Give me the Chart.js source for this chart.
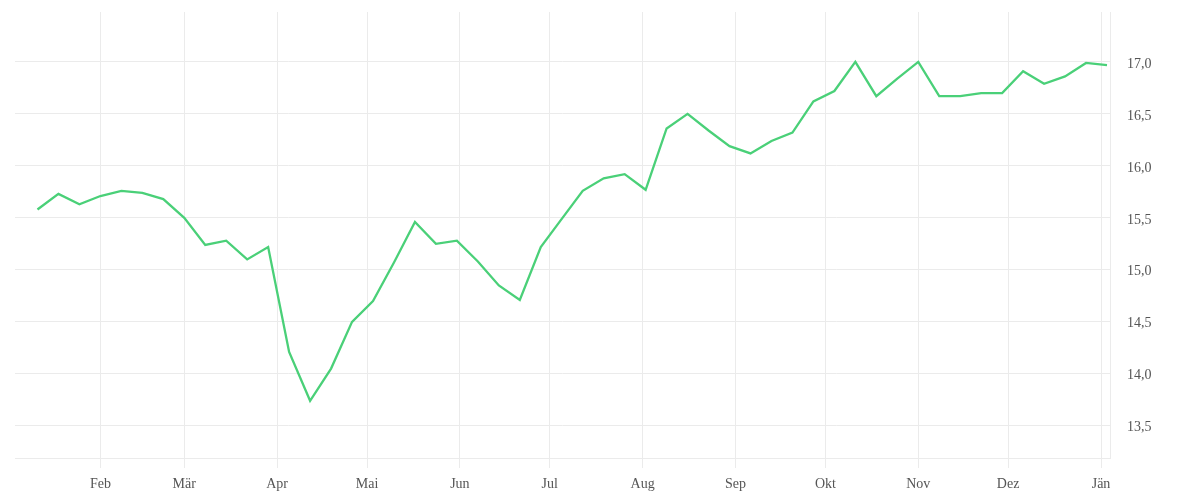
<!DOCTYPE html>
<html><head><meta charset="utf-8">
<script src="https://cdn.jsdelivr.net/npm/chart.js@4.4.1/dist/chart.umd.min.js"></script>
<style>html,body{margin:0;padding:0;background:#fff;} #wrap{width:1200px;height:500px;position:relative;}</style>
</head><body><div id="wrap"><canvas id="c"></canvas></div>
<script>
const dates = [
  '2019-01-11','2019-01-18','2019-01-25','2019-02-01','2019-02-08','2019-02-15','2019-02-22',
  '2019-03-01','2019-03-08','2019-03-15','2019-03-22','2019-03-29',
  '2019-04-05','2019-04-12','2019-04-19','2019-04-26',
  '2019-05-03','2019-05-10','2019-05-17','2019-05-24','2019-05-31',
  '2019-06-07','2019-06-14','2019-06-21','2019-06-28',
  '2019-07-05','2019-07-12','2019-07-19','2019-07-26',
  '2019-08-02','2019-08-09','2019-08-16','2019-08-23','2019-08-30',
  '2019-09-06','2019-09-13','2019-09-20','2019-09-27',
  '2019-10-04','2019-10-11','2019-10-18','2019-10-25',
  '2019-11-01','2019-11-08','2019-11-15','2019-11-22','2019-11-29',
  '2019-12-06','2019-12-13','2019-12-20','2019-12-27',
  '2020-01-03'
];
const values = [
  15.58,15.73,15.63,15.71,15.76,15.74,15.68,
  15.50,15.24,15.28,15.10,15.22,
  14.21,13.74,14.05,14.50,
  14.70,15.07,15.46,15.25,15.28,
  15.08,14.85,14.71,15.22,
  15.49,15.76,15.88,15.92,
  15.77,16.36,16.50,16.34,16.19,
  16.12,16.24,16.32,16.62,
  16.72,17.00,16.67,16.84,
  17.00,16.67,16.67,16.70,16.70,
  16.91,16.79,16.86,16.99,
  16.97
];
const monthTickDates = ['2019-02-01','2019-03-01','2019-04-01','2019-05-01','2019-06-01','2019-07-01',
  '2019-08-01','2019-09-01','2019-10-01','2019-11-01','2019-12-01','2020-01-01'];
const monthLabels = ['Feb','Mär','Apr','Mai','Jun','Jul','Aug','Sep','Okt','Nov','Dez','Jän'];
const yTickValues = [13.5,14.0,14.5,15.0,15.5,16.0,16.5,17.0];
const xRange = ['2019-01-03T12:00:00Z','2020-01-04T00:00:00Z'];
const yRange = [13.19, 17.48];

const DAY = 86400000;
const toDay = s => Date.parse(s.length === 10 ? s + 'T00:00:00Z' : s) / DAY;

const gridColor = '#ebebeb';
const textColor = '#555';
const fontFamily = "'Liberation Serif', 'DejaVu Serif', serif";

new Chart(document.getElementById('c'), {
  type: 'line',
  data: {
    datasets: [{
      data: dates.map((d, i) => ({ x: toDay(d), y: values[i] })),
      borderColor: 'rgb(74, 208, 120)',
      borderWidth: 2.3,
      pointRadius: 0,
      tension: 0,
      fill: false
    }]
  },
  options: {
    responsive: true,
    maintainAspectRatio: false,
    animation: false,
    layout: { padding: { left: 15, top: 12, right: 0, bottom: 1 } },
    plugins: { legend: { display: false }, tooltip: { enabled: false } },
    scales: {
      x: {
        type: 'linear',
        min: toDay(xRange[0]),
        max: toDay(xRange[1]),
        afterBuildTicks: (axis) => { axis.ticks = monthTickDates.map(d => ({ value: toDay(d) })); },
        afterFit: (axis) => { axis.paddingLeft = 0; axis.paddingRight = 0; axis.height = 41; },
        ticks: {
          autoSkip: false, maxRotation: 0, minRotation: 0, padding: 8,
          color: textColor, font: { family: fontFamily, size: 14 },
          callback: (v, i) => monthLabels[i]
        },
        grid: { color: gridColor, lineWidth: 1, drawTicks: true, tickLength: 10 },
        border: { display: true, color: gridColor }
      },
      y: {
        position: 'right',
        min: yRange[0],
        max: yRange[1],
        afterBuildTicks: (axis) => { axis.ticks = yTickValues.map(v => ({ value: v })); },
        afterFit: (axis) => { axis.width = 90; axis.paddingTop = 0; axis.paddingBottom = 0; },
        ticks: {
          padding: 17, labelOffset: 2,
          color: textColor, font: { family: fontFamily, size: 14 },
          callback: (v) => v.toFixed(1).replace('.', ',')
        },
        grid: { color: gridColor, lineWidth: 1, drawTicks: false },
        border: { display: true, color: gridColor }
      }
    }
  }
});
</script>
</body></html>
